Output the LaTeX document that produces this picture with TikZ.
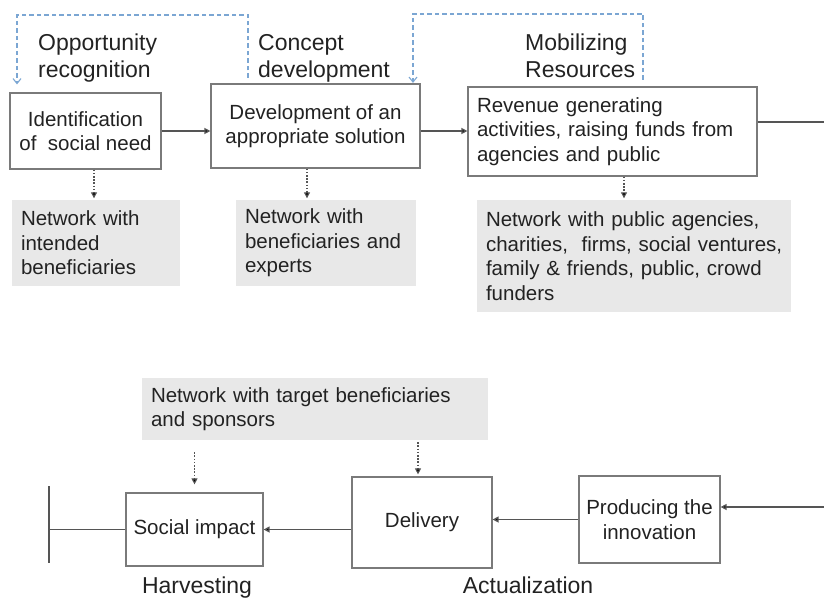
\documentclass[tikz,border=0pt]{standalone}
\usepackage{fontspec}
\setmainfont{Liberation Sans}
\usetikzlibrary{arrows.meta}
\definecolor{txt}{HTML}{222222}
\definecolor{bord}{HTML}{7A7A7A}
\definecolor{lin}{HTML}{555555}
\definecolor{grayfill}{HTML}{E8E8E8}
\definecolor{bluel}{HTML}{7BA6D3}
\begin{document}
\begin{tikzpicture}[x=1pt,y=-1pt,
  every node/.style={text=txt},
  bodyfont/.style={font=\fontsize{20.5}{24.5}\selectfont},
  headfont/.style={font=\fontsize{23}{27}\selectfont},
  stepbox/.style={draw=bord, line width=1.2pt, fill=white, bodyfont, align=center, inner sep=0pt},
  leftbox/.style={draw=bord, line width=1.2pt, fill=white, bodyfont, align=left, inner xsep=9pt, inner ysep=0pt},
  graybox/.style={fill=grayfill, draw=none, bodyfont, align=left, inner xsep=9pt, inner ysep=0pt},
  heading/.style={headfont, align=left, inner sep=0pt, anchor=north west},
  flow/.style={draw=lin, line width=1.3pt, -{Triangle[length=6pt,width=6pt,fill=black]}},
  plainline/.style={draw=lin, line width=1.3pt},
  dotarrow/.style={draw=lin, line width=1.1pt, dash pattern=on 1.6pt off 1.6pt, -{Triangle[length=6pt,width=6pt,fill=black]}},
  bluedash/.style={draw=bluel, line width=1.1pt, dash pattern=on 4.5pt off 3pt, -{Straight Barb[length=5pt,width=8pt]}}
]
\useasboundingbox (0,0) rectangle (824,599);
\clip (0,0) rectangle (824,599);

% headings
\node[heading] (h1) at (38,34) {Opportunity\\recognition};
\node[heading] (h2) at (258,34) {Concept\\development};
\node[heading] (h3) at (525,34) {Mobilizing\\Resources};
\node[headfont, inner sep=0pt, anchor=base] (h4) at (197,593) {Harvesting};
\node[headfont, inner sep=0pt, anchor=base] (h5) at (528,593) {Actualization};

% top row boxes
\node[stepbox, minimum width=151, minimum height=76] (b1) at (85.5,131) {Identification\\of~~social need};
\node[stepbox, minimum width=209, minimum height=84] (b2) at (315.5,126) {Development of an\\appropriate solution};
\node[leftbox, text width=271, minimum height=89] (b3) at (612.5,131.5) {\mbox{Revenue generating}\\\mbox{activities, raising funds from}\\\mbox{agencies and public}};

% gray network boxes
\node[graybox, text width=150, minimum height=86] (g1) at (96,243) {\mbox{Network with}\\\mbox{intended}\\\mbox{beneficiaries}};
\node[graybox, text width=162, minimum height=86] (g2) at (326,243) {\mbox{Network with}\\\mbox{beneficiaries and}\\\mbox{experts}};
\node[graybox, text width=296, minimum height=112] (g3) at (634,256) {\mbox{Network with public agencies,}\\\mbox{charities,~~firms, social ventures,}\\\mbox{family \& friends, public, crowd}\\\mbox{funders}};
\node[graybox, text width=328, minimum height=62] (g4) at (315,409) {\mbox{Network with target beneficiaries}\\\mbox{and sponsors}};

% bottom row boxes
\node[stepbox, minimum width=137, minimum height=73] (s) at (194.5,529.5) {Social impact};
\node[stepbox, minimum width=140, minimum height=91] (d) at (422,522.5) {Delivery};
\node[stepbox, minimum width=141, minimum height=87] (p) at (649.5,519.5) {Producing the\\innovation};

% coordinates
\coordinate (rt) at (824,122);
\coordinate (rb) at (824,507);
\coordinate (bar) at (49,529.5);
\coordinate (bart) at (49,486);
\coordinate (barb) at (49,563);
\coordinate (s1) at (248,78);
\coordinate (u1) at (17,15);
\coordinate (s2) at (643,80);
\coordinate (u2) at (413,14);

% top flow
\draw[flow] (b1.east) -- (b1.east -| b2.west);
\draw[flow] (b1.east -| b2.east) -- (b1.east -| b3.west);
\draw[plainline] (b3.east |- rt) -- (rt);

% bottom flow
\draw[flow] (rb) -- (rb -| p.east);
\draw[flow] (p.west) -- (p.west -| d.east);
\draw[flow] (d.west |- s.east) -- (s.east);
\draw[plainline] (s.west) -- (bar);
\draw[plainline] (bart) -- (barb);

% dotted network arrows
\draw[dotarrow, shorten >=1.5pt] ([xshift=8.5pt]b1.south) -- ([xshift=8.5pt]b1.south |- g1.north);
\draw[dotarrow, shorten >=1.5pt] ([xshift=-8.5pt]b2.south) -- ([xshift=-8.5pt]b2.south |- g2.north);
\draw[dotarrow, shorten >=1.5pt] ([xshift=11.5pt]b3.south) -- ([xshift=11.5pt]b3.south |- g3.north);
\draw[dotarrow, shorten <=12pt, shorten >=8pt] (g4.south -| s.north) -- (s.north);
\draw[dotarrow, shorten <=2pt, shorten >=2pt] ([xshift=-4pt]g4.south -| d.north) -- ([xshift=-4pt]d.north);

% blue dashed feedback arrows
\draw[bluedash, shorten >=8pt] (s1) |- (u1) -- (u1 |- b1.north);
\draw[bluedash, shorten >=0.5pt] (s2) |- (u2) -- (u2 |- b2.north);
\end{tikzpicture}
\end{document}
